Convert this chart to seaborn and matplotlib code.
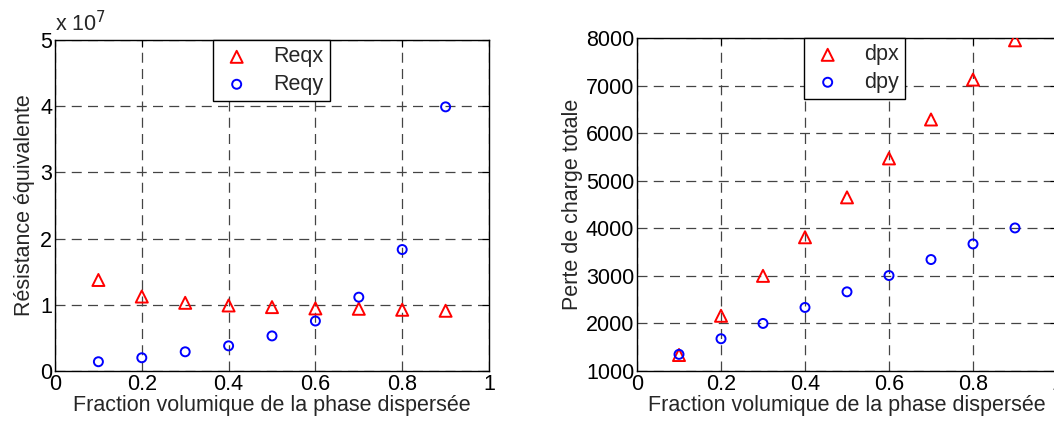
import matplotlib
matplotlib.use("Agg")
import matplotlib.pyplot as plt
import seaborn as sns
from matplotlib.ticker import FuncFormatter

# Data
fraction = [0.1, 0.2, 0.3, 0.4, 0.5, 0.6, 0.7, 0.8, 0.9]
reqx = [1.375e7, 1.125e7, 1.03e7, 0.99e7, 0.965e7, 0.945e7, 0.94e7, 0.925e7, 0.91e7]
reqy = [0.14e7, 0.20e7, 0.29e7, 0.38e7, 0.53e7, 0.755e7, 1.115e7, 1.835e7, 3.99e7]
dpx = [1336, 2161, 3000, 3811, 4650, 5469, 6287, 7126, 7951]
dpy = [1350, 1678, 2000, 2336, 2664, 3007, 3343, 3671, 4007]

sns.set_style("white")
plt.rcParams['font.family'] = ['Liberation Sans', 'DejaVu Sans']
FS = 15.5

fig = plt.figure(figsize=(10.54, 4.24), dpi=100)
ax1 = fig.add_axes([55 / 1054, 53 / 424, 434 / 1054, 331 / 424])
ax2 = fig.add_axes([637 / 1054, 53 / 424, 420 / 1054, 333 / 424])


def draw(ax, x, ya, yb, la, lb):
    sns.scatterplot(x=x, y=ya, ax=ax, marker='^', s=75, facecolors='none',
                    edgecolors='red', linewidths=1.4, label=la, zorder=3)
    sns.scatterplot(x=x, y=yb, ax=ax, marker='o', s=42, facecolors='none',
                    edgecolors='blue', linewidths=1.4, label=lb, zorder=3)
    ax.grid(True, color='#444444', linestyle=(0, (8, 5)), linewidth=0.9)
    ax.set_axisbelow(True)
    for sp in ax.spines.values():
        sp.set_color('black')
        sp.set_linewidth(1.0)
    ax.tick_params(direction='in', top=True, right=True, length=5,
                   labelsize=FS, colors='black', pad=2)
    ax.set_xlim(0, 1)
    ax.set_xticks([0, 0.2, 0.4, 0.6, 0.8, 1])
    ax.xaxis.set_major_formatter(FuncFormatter(lambda v, p: f"{v:g}"))
    ax.set_xlabel('Fraction volumique de la phase dispersée', fontsize=FS, labelpad=0)


def legend(ax, x0, y0):
    ax.legend(loc='upper left', bbox_to_anchor=(x0 / 1054, 1 - y0 / 424),
              bbox_transform=fig.transFigure, frameon=True, fancybox=False,
              edgecolor='black', framealpha=1, fontsize=FS, borderaxespad=0,
              handletextpad=0.9, borderpad=0.3, labelspacing=0.3,
              handlelength=1.6).get_frame().set_linewidth(1.0)


draw(ax1, fraction, reqx, reqy, 'Reqx', 'Reqy')
ax1.set_ylim(0, 5e7)
ax1.set_yticks([0, 1e7, 2e7, 3e7, 4e7, 5e7])
ax1.yaxis.set_major_formatter(FuncFormatter(lambda v, p: f"{v / 1e7:g}"))
ax1.set_ylabel('Résistance équivalente', fontsize=FS, labelpad=4)
ax1.text(0, 1.01, r'x 10$^{7}$', transform=ax1.transAxes, fontsize=FS, va='bottom')
legend(ax1, 213, 40)

draw(ax2, fraction, dpx, dpy, 'dpx', 'dpy')
ax2.set_ylim(1000, 8000)
ax2.set_yticks(range(1000, 8001, 1000))
ax2.set_ylabel('Perte de charge totale', fontsize=FS, labelpad=2)
legend(ax2, 804, 38)

plt.savefig('out.png', dpi=100)
